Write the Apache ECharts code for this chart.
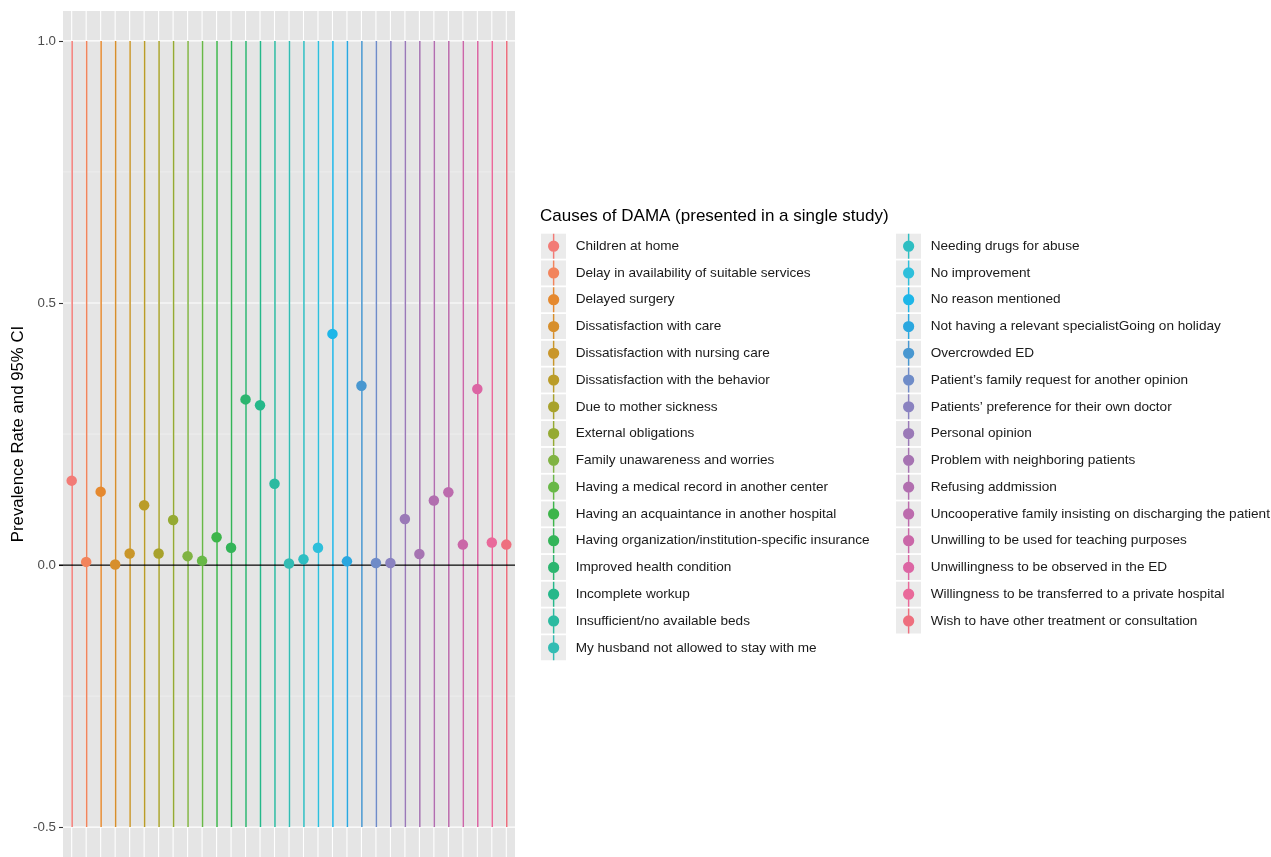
<!DOCTYPE html>
<html>
<head>
<meta charset="utf-8">
<title>Causes of DAMA</title>
<script src="https://cdn.jsdelivr.net/npm/echarts@6/dist/echarts.min.js"></script>
<style>
  html, body { margin: 0; padding: 0; background: #ffffff; }
  #chart { width: 1271px; height: 857px; }
</style>
</head>
<body>
<div id="chart"></div>
<script>
// Causes of discharge against medical advice, each reported in a single study
const causes = [
  "Children at home",
  "Delay in availability of suitable services",
  "Delayed surgery",
  "Dissatisfaction with care",
  "Dissatisfaction with nursing care",
  "Dissatisfaction with the behavior",
  "Due to mother sickness",
  "External obligations",
  "Family unawareness and worries",
  "Having a medical record in another center",
  "Having an acquaintance in another hospital",
  "Having organization/institution-specific insurance",
  "Improved health condition",
  "Incomplete workup",
  "Insufficient/no available beds",
  "My husband not allowed to stay with me",
  "Needing drugs for abuse",
  "No improvement",
  "No reason mentioned",
  "Not having a relevant specialistGoing on holiday",
  "Overcrowded ED",
  "Patient\u2019s family request for another opinion",
  "Patients\u2019 preference for their own doctor",
  "Personal opinion",
  "Problem with neighboring patients",
  "Refusing addmission",
  "Uncooperative family insisting on discharging the patient",
  "Unwilling to be used for teaching purposes",
  "Unwillingness to be observed in the ED",
  "Willingness to be transferred to a private hospital",
  "Wish to have other treatment or consultation"
];

// Prevalence rate for each cause
const prevalence = [
  0.161, 0.006, 0.140, 0.001, 0.022, 0.114, 0.022, 0.086,
  0.017, 0.008, 0.053, 0.033, 0.316, 0.305, 0.155, 0.003,
  0.011, 0.033, 0.441, 0.007, 0.342, 0.004, 0.004, 0.088,
  0.021, 0.123, 0.139, 0.039, 0.336, 0.043, 0.039
];

// 95% confidence limits (shown within the plotted range)
const ciLower = [
  -0.5, -0.5, -0.5, -0.5, -0.5, -0.5, -0.5, -0.5,
  -0.5, -0.5, -0.5, -0.5, -0.5, -0.5, -0.5, -0.5,
  -0.5, -0.5, -0.5, -0.5, -0.5, -0.5, -0.5, -0.5,
  -0.5, -0.5, -0.5, -0.5, -0.5, -0.5, -0.5
];
const ciUpper = [
  1.0, 1.0, 1.0, 1.0, 1.0, 1.0, 1.0, 1.0,
  1.0, 1.0, 1.0, 1.0, 1.0, 1.0, 1.0, 1.0,
  1.0, 1.0, 1.0, 1.0, 1.0, 1.0, 1.0, 1.0,
  1.0, 1.0, 1.0, 1.0, 1.0, 1.0, 1.0
];

// Y axis ticks and grid lines
const yTicks = [-0.5, 0, 0.5, 1.0];
const yMinorGrid = [-0.25, 0.25, 0.75];
const yRange = [-0.557, 1.057];

// Hue wheel palette, one colour per cause
const palette = [
  '#f27b76', '#f2845c', '#e5892f', '#d78f2c', '#c9962a', '#ba9c28',
  '#a8a22c', '#95aa33', '#80b343', '#68b847', '#3db54a', '#33b458',
  '#2cb56f', '#25b88a', '#2bbaa0', '#33bcb3', '#2ebec2', '#2ebfdb',
  '#1db6e8', '#2aa7df', '#4897d0', '#6f8cc8', '#8a82c0', '#9a79b7',
  '#a673b2', '#b16eaf', '#bc6bad', '#ca67a8', '#dc66a4', '#e9699a',
  '#ee6f7e'
];

// ---- layout ----
const PANEL = { left: 63, top: 11, width: 452, height: 846 };
const KEY = { size: 25, pitch: 26.77, top: 233.7, col1: 541, col2: 896, slot: 34, iconShift: 7 };
const leftCount = 16;
const n = causes.length;

const xMin = 0.4, xMax = n + 0.6;

// Horizontal grid lines across the panel
function hLineSeries(name, values, color, width, z) {
  return {
    name: name,
    type: 'custom',
    silent: true,
    z: z,
    clip: false,
    data: values.map(v => [v]),
    renderItem: function (params, api) {
      const v = api.value(0);
      const p1 = api.coord([xMin, v]);
      const p2 = api.coord([xMax, v]);
      return {
        type: 'line',
        shape: { x1: p1[0], y1: p1[1], x2: p2[0], y2: p2[1] },
        style: { stroke: color, lineWidth: width }
      };
    }
  };
}

const series = [];
series.push(hLineSeries('minorGrid', yMinorGrid, '#f3f3f3', 0.6, 1));
series.push(hLineSeries('majorGrid', yTicks, '#ffffff', 1.1, 1));

// vertical white grid lines at each cause
series.push({
  name: 'xGrid',
  type: 'custom',
  silent: true,
  z: 1,
  data: causes.map((_, i) => [i + 1]),
  renderItem: function (params, api) {
    const x = api.value(0);
    const p1 = api.coord([x, yRange[1]]);
    const p2 = api.coord([x, yRange[0]]);
    return {
      type: 'line',
      shape: { x1: p1[0], y1: p1[1], x2: p2[0], y2: p2[1] },
      style: { stroke: '#ffffff', lineWidth: 1.1 }
    };
  }
});

// 95% CI line ranges
series.push({
  name: 'ci',
  type: 'custom',
  silent: true,
  z: 2,
  data: causes.map((_, i) => [i + 1, ciLower[i], ciUpper[i]]),
  renderItem: function (params, api) {
    const x = api.value(0) + 0.03;
    const lo = api.coord([x, api.value(1)]);
    const hi = api.coord([x, api.value(2)]);
    return {
      type: 'line',
      shape: { x1: lo[0], y1: lo[1], x2: hi[0], y2: hi[1] },
      style: { stroke: palette[params.dataIndex], lineWidth: 1.5 }
    };
  }
});

// zero reference line
series.push({
  name: 'zero',
  type: 'custom',
  silent: true,
  z: 3,
  clip: false,
  data: [[0]],
  renderItem: function (params, api) {
    const p1 = api.coord([xMin, api.value(0)]);
    const p2 = api.coord([xMax, api.value(0)]);
    return {
      type: 'line',
      shape: { x1: p1[0] - 4, y1: p1[1], x2: p2[0], y2: p2[1] },
      style: { stroke: '#000000', lineWidth: 1.3 }
    };
  }
});

// prevalence points, one series per cause
causes.forEach((name, i) => {
  series.push({
    name: name,
    type: 'scatter',
    z: 4,
    symbol: 'circle',
    symbolSize: 10.5,
    itemStyle: { color: palette[i], opacity: 1 },
    emphasis: { disabled: true },
    data: [[i + 1, prevalence[i]]]
  });
});

// legend key: vertical line through a dot
const keyIcon = 'path://M11.3,0 L12.7,0 L12.7,24 L11.3,24 Z M12,6.6 A5.4,5.4 0 1,1 12,17.4 A5.4,5.4 0 1,1 12,6.6 Z';

function makeLegend(names, keyLeft) {
  return {
    show: true,
    orient: 'vertical',
    left: keyLeft + KEY.iconShift,
    top: KEY.top,
    padding: 0,
    itemGap: KEY.pitch - KEY.size,
    itemWidth: KEY.slot,
    itemHeight: KEY.size,
    icon: keyIcon,
    selectedMode: false,
    data: names,
    textStyle: {
      fontFamily: 'Liberation Sans, Arial, sans-serif',
      fontSize: 13.6,
      color: '#1a1a1a'
    }
  };
}

// grey key backgrounds
const keyRects = [];
causes.forEach((name, i) => {
  const col = i < leftCount ? KEY.col1 : KEY.col2;
  const row = i < leftCount ? i : i - leftCount;
  keyRects.push({
    type: 'rect',
    left: col,
    top: KEY.top + row * KEY.pitch,
    z: -1,
    silent: true,
    shape: { width: KEY.size, height: KEY.size },
    style: { fill: '#ebebeb' }
  });
});

const option = {
  animation: false,
  backgroundColor: '#ffffff',
  title: {
    text: 'Causes of DAMA (presented in a single study)',
    left: 540,
    top: 208,
    padding: 0,
    textStyle: {
      fontFamily: 'Liberation Sans, Arial, sans-serif',
      fontSize: 17,
      fontWeight: 'normal',
      color: '#000000'
    }
  },
  legend: [
    makeLegend(causes.slice(0, leftCount), KEY.col1),
    makeLegend(causes.slice(leftCount), KEY.col2)
  ],
  graphic: keyRects,
  grid: {
    left: PANEL.left,
    top: PANEL.top,
    width: PANEL.width,
    height: PANEL.height,
    show: true,
    backgroundColor: '#e5e5e5',
    borderWidth: 0
  },
  xAxis: {
    type: 'value',
    min: xMin,
    max: xMax,
    axisLine: { show: false },
    axisTick: { show: false },
    axisLabel: { show: false },
    splitLine: { show: false }
  },
  yAxis: {
    type: 'value',
    min: yRange[0],
    max: yRange[1],
    name: 'Prevalence Rate and 95% CI',
    nameLocation: 'middle',
    nameGap: 36,
    nameRotate: 90,
    nameTextStyle: {
      fontFamily: 'Liberation Sans, Arial, sans-serif',
      fontSize: 16.8,
      color: '#000000'
    },
    axisLine: { show: false },
    axisTick: {
      show: true,
      length: 4,
      customValues: yTicks,
      lineStyle: { color: '#333333', width: 1.1 }
    },
    axisLabel: {
      show: true,
      customValues: yTicks,
      margin: 7,
      fontFamily: 'Liberation Sans, Arial, sans-serif',
      fontSize: 13.3,
      color: '#4d4d4d',
      formatter: v => v.toFixed(1)
    },
    splitLine: { show: false }
  },
  series: series
};

const chart = echarts.init(document.getElementById('chart'), null, { renderer: 'canvas' });
chart.setOption(option);
</script>
</body>
</html>
